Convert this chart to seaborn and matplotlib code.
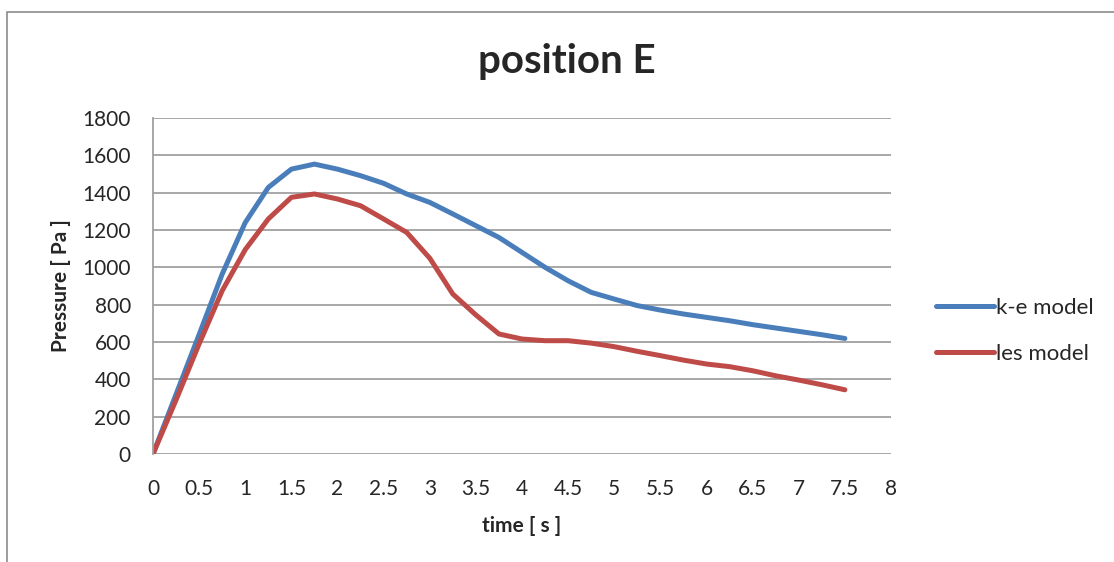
import numpy as np
import pandas as pd
import matplotlib
matplotlib.use("Agg")
import matplotlib.pyplot as plt
import seaborn as sns
from matplotlib.patches import Rectangle

# values (every 0.25 s)
time_s = [0, 0.25, 0.5, 0.75, 1, 1.25, 1.5, 1.75, 2, 2.25, 2.5, 2.75, 3, 3.25,
          3.5, 3.75, 4, 4.25, 4.5, 4.75, 5, 5.25, 5.5, 5.75, 6, 6.25, 6.5,
          6.75, 7, 7.25, 7.5]
ke_model = [0, 320, 640, 964, 1240, 1428, 1526, 1553, 1526, 1491, 1450, 1393,
            1348, 1286, 1223, 1160, 1080, 1000, 928, 866, 830, 795, 771, 750,
            732, 714, 693, 675, 657, 639, 619]
les_model = [0, 290, 590, 875, 1095, 1259, 1375, 1393, 1366, 1330, 1259, 1187,
             1049, 857, 745, 643, 616, 607, 607, 594, 575, 550, 527, 503, 482,
             468, 446, 419, 396, 371, 344]
series_names = ["k-e model", "les model"]
colors = ["#4A7EBB", "#BE4B48"]

df = pd.DataFrame({
    "time": time_s * 2,
    "pressure": ke_model + les_model,
    "model": [series_names[0]] * len(time_s) + [series_names[1]] * len(time_s),
})

sns.set_style("white")
plt.rcParams["font.family"] = ["Lato", "DejaVu Sans"]

fig = plt.figure(figsize=(11.14, 5.62), dpi=100)
ax = fig.add_axes([153 / 1114, 1 - 454 / 562, (891 - 153) / 1114, (454 - 118) / 562])

sns.lineplot(data=df, x="time", y="pressure", hue="model", palette=colors,
             linewidth=3.6, ax=ax, legend=False, solid_capstyle="round",
             solid_joinstyle="round")

ax.set_xlim(0, 8)
ax.set_ylim(0, 1800)
ax.set_xticks(np.arange(0, 8.5, 0.5))
ax.set_xticklabels(["0", "0.5", "1", "1.5", "2", "2.5", "3", "3.5", "4", "4.5",
                    "5", "5.5", "6", "6.5", "7", "7.5", "8"])
ax.set_yticks(range(0, 1801, 200))
ax.tick_params(axis="both", labelsize=15, length=0)
ax.tick_params(axis="x", pad=18)
ax.tick_params(axis="y", pad=16)
ax.yaxis.grid(True, color="#A0A0A0", linewidth=1.3)
ax.xaxis.grid(False)
for side in ["top", "right", "bottom"]:
    ax.spines[side].set_visible(False)
ax.spines["left"].set_color("#A0A0A0")
ax.spines["left"].set_linewidth(1.3)

ax.set_xlabel("time [ s ]", fontsize=15, fontweight="bold", labelpad=12)
ax.set_ylabel("Pressure [ Pa ]", fontsize=15, fontweight="bold", labelpad=8)
fig.text(567 / 1114, 1 - 62 / 562, "position E", fontsize=29, fontweight="bold",
         ha="center", va="center")

handles = [plt.Line2D([], [], color=c, linewidth=3.6, solid_capstyle="round")
           for c in colors]
fig.legend(handles, series_names, loc="center left",
           bbox_to_anchor=(916 / 1114, 1 - 331 / 562), frameon=False,
           fontsize=16, handlelength=2.6, handletextpad=0.1, labelspacing=1.15)

# outer chart-area border
fig.patches.append(Rectangle((7 / 1114, -0.05), 1.1, 1 - 12 / 562 + 0.05,
                             transform=fig.transFigure, fill=False,
                             edgecolor="#8C8C8C", linewidth=1.2))

fig.savefig("out.png", dpi=100)
